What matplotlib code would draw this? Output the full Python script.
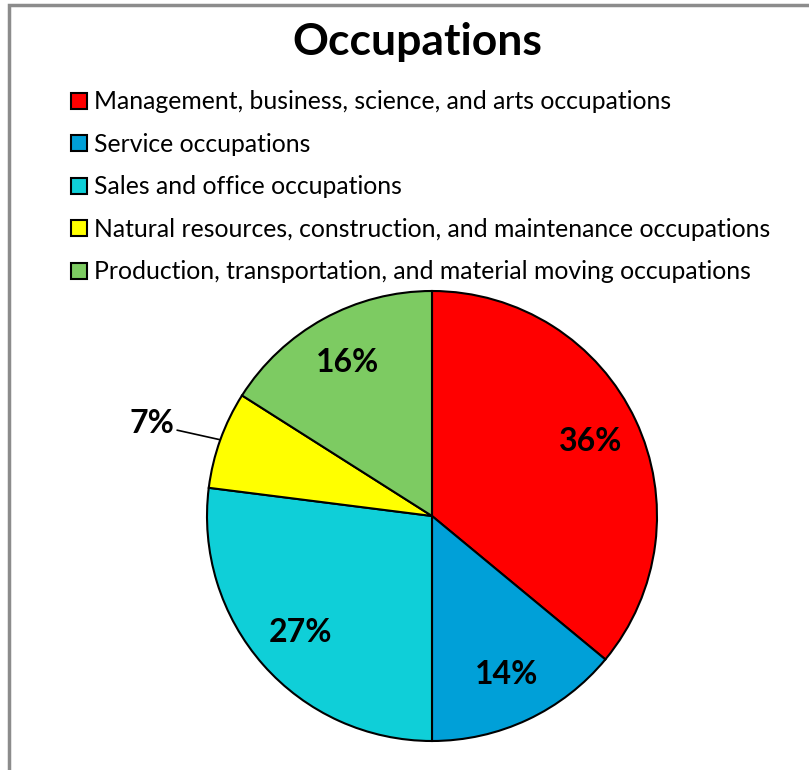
import matplotlib.pyplot as plt
from matplotlib.patches import Rectangle
import numpy as np

plt.rcParams['font.family'] = ['Lato', 'DejaVu Sans']

# Data
categories = [
    'Management, business, science, and arts occupations',
    'Service occupations',
    'Sales and office occupations',
    'Natural resources, construction, and maintenance occupations',
    'Production, transportation, and material moving occupations',
]
shares = [36, 14, 27, 7, 16]
colors = ['#FF0000', '#00A0D8', '#0FCFD8', '#FFFF00', '#7DCB62']

W, H = 809, 770
fig = plt.figure(figsize=(W / 100, H / 100), dpi=100)

# grey chart-area frame (runs off the right and bottom of the picture)
fig.patches.append(Rectangle((9 / W, -0.05), 1.1, 1 - 5 / H + 0.05,
                             transform=fig.transFigure, fill=False,
                             edgecolor='#8C8C8C', linewidth=2.5))

# pie axes: centre (432, 516) px, radius 225 px
cx, cy, r = 432, 516, 225
ax = fig.add_axes([(cx - r) / W, (H - cy - r) / H, 2 * r / W, 2 * r / H])
wedges, texts, autotexts = ax.pie(
    shares, colors=colors, startangle=90, counterclock=False, radius=1,
    autopct='%d%%', pctdistance=0.78,
    wedgeprops=dict(edgecolor='black', linewidth=1.5),
    textprops=dict(fontsize=23, fontweight='bold', color='black'))
ax.set_xlim(-1, 1)
ax.set_ylim(-1, 1)
ax.set_aspect('equal')

# small slice label goes outside with a leader line
i = 3
t = autotexts[i]
t.set_visible(False)
ang = np.deg2rad((wedges[i].theta1 + wedges[i].theta2) / 2)
ax.annotate(f'{shares[i]}%', xy=(np.cos(ang), np.sin(ang)),
            xytext=(-1.245, 0.41), ha='center', va='center',
            fontsize=23, fontweight='bold',
            arrowprops=dict(arrowstyle='-', color='black', lw=1.2,
                            shrinkA=0, shrinkB=0,
                            relpos=(1.0, 0.3)))

fig.text(417 / W, 1 - 42 / H, 'Occupations', ha='center', va='center',
         fontsize=32, fontweight='bold')

fig.legend(wedges, categories, loc='upper left',
           bbox_to_anchor=(59 / W, 1 - 78 / H), frameon=False,
           fontsize=17.8, handlelength=0.62, handleheight=0.62,
           handletextpad=0.3, labelspacing=0.79, borderpad=0)

fig.savefig('out.png', dpi=100)
